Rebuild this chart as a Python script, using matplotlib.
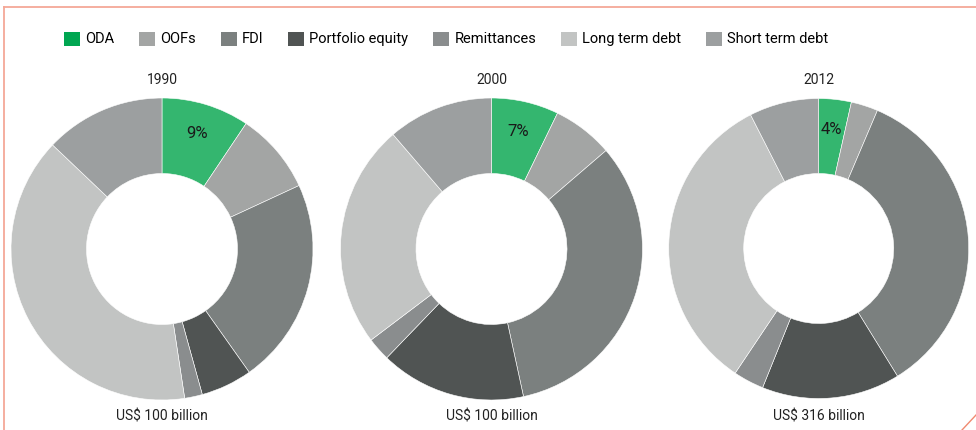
import numpy as np
import matplotlib
matplotlib.use("Agg")
import matplotlib.pyplot as plt
from matplotlib.patches import Patch
from matplotlib.lines import Line2D

plt.rcParams["font.family"] = ["Roboto", "DejaVu Sans"]

categories = ["ODA", "OOFs", "FDI", "Portfolio equity", "Remittances",
              "Long term debt", "Short term debt"]
years = ["1990", "2000", "2012"]
totals = ["US$ 100 billion", "US$ 100 billion", "US$ 316 billion"]
shares_1990 = [9.4, 8.7, 22.1, 5.5, 1.9, 39.5, 12.9]
shares_2000 = [7.2, 6.5, 32.9, 15.6, 2.5, 24.0, 11.3]
shares_2012 = [3.5, 2.9, 34.8, 14.9, 3.3, 33.1, 7.5]
oda_labels = ["9%", "7%", "4%"]

slice_colors = ["#34b66f", "#a3a5a4", "#7b807f", "#505453", "#8a8d8e", "#c2c4c3", "#9c9fa0"]
legend_colors = ["#00a651"] + slice_colors[1:]

W, H = 976, 430
fig = plt.figure(figsize=(W / 100, H / 100), dpi=100)
ax = fig.add_axes([0, 0, 1, 1])

centers = [(162, H - 249), (491.5, H - 249), (818.7, H - 248.5)]
radii = [151, 151, 150]
for shares, (cx, cy), r, yr, tot, lab in zip(
        [shares_1990, shares_2000, shares_2012], centers, radii, years, totals, oda_labels):
    ax.pie(shares, colors=slice_colors, startangle=90, counterclock=False,
           center=(cx, cy), radius=r, normalize=True,
           wedgeprops=dict(width=r * 0.5, edgecolor="white", linewidth=0.4))
    ax.text(cx, H - 80, yr, ha="center", va="center", fontsize=10, color="#222222")
    ax.text(cx, H - 416, tot, ha="center", va="center", fontsize=10, color="#222222")
    # ODA share label at the middle of the green slice
    mid = np.deg2rad(shares[0] / sum(shares) * 180)
    ax.text(cx + 0.8 * r * np.sin(mid), cy + 0.8 * r * np.cos(mid), lab,
            ha="center", va="center", fontsize=12, color="#1a1a1a")

ax.set_xlim(0, W)
ax.set_ylim(0, H)
ax.set_aspect("auto")
ax.axis("off")

# salmon frame edges
border = "#f4a897"
fig.add_artist(Line2D([4 / W, 1], [1 - 7 / H, 1 - 7 / H], color=border, lw=1.3))
fig.add_artist(Line2D([4 / W, 4 / W], [0, 1 - 7 / H], color=border, lw=1.3))
fig.add_artist(Line2D([962 / W, 1], [0, 15 / H], color="#f08a70", lw=1.0))

handles = [Patch(facecolor=c, edgecolor="none") for c in legend_colors]
fig.legend(handles, categories, loc="center", bbox_to_anchor=(446 / W, 1 - 39 / H),
           ncol=7, frameon=False, fontsize=10.5, handlelength=1.1, handleheight=1.1,
           handletextpad=0.35, columnspacing=1.7)

fig.savefig("out.png", dpi=100)
